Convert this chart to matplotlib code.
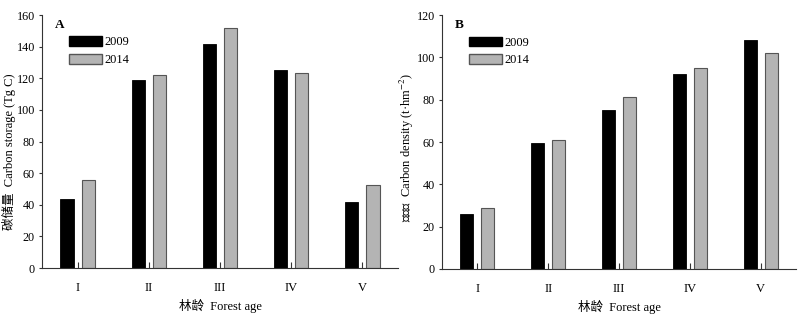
import numpy as np
import matplotlib
matplotlib.use("Agg")
import matplotlib.pyplot as plt
from matplotlib.patches import Patch

plt.rcParams['font.family'] = ['Liberation Serif', 'Noto Sans CJK SC']
plt.rcParams['font.size'] = 8.7
plt.rcParams['mathtext.fontset'] = 'stix'

categories = ["I", "II", "III", "IV", "V"]
years = ["2009", "2014"]
storage_2009 = [43.5, 119, 142, 125, 42]
storage_2014 = [55.5, 122, 152, 123.5, 52.5]
density_2009 = [26, 59.5, 75, 92, 108]
density_2014 = [29, 61, 81.5, 95, 102]


def draw_panel(ax, v1, v2, ymax, ylabel, tag, ylab_y):
    x = np.arange(len(categories))
    w = 0.185
    off = 0.148
    ax.bar(x - off, v1, w, color="black", edgecolor="black", linewidth=0.6)
    ax.bar(x + off, v2, w, color="#b4b4b4", edgecolor="#555555", linewidth=0.8)
    ax.set_xlim(-0.5, len(categories) - 0.5)
    ax.set_ylim(0, ymax)
    ax.set_yticks(np.arange(0, ymax + 1, 20))
    ax.set_xticks(x)
    ax.set_xticklabels(categories)
    ax.spines["top"].set_visible(False)
    ax.spines["right"].set_visible(False)
    for s in ("left", "bottom"):
        ax.spines[s].set_color("#333333")
        ax.spines[s].set_linewidth(0.8)
    ax.tick_params(axis="x", direction="in", length=4, pad=10, color="#333333",
                   labelsize=9)
    ax.tick_params(axis="y", direction="out", length=2.5, pad=2.5, color="#333333",
                   labelsize=8.7)
    ax.set_xlabel("林龄  Forest age", labelpad=4, fontsize=9)
    ax.set_ylabel(ylabel, fontsize=9)
    ax.yaxis.set_label_coords(-0.073, ylab_y)
    ax.text(0.035, 0.985, tag, transform=ax.transAxes, fontweight="bold",
            ha="left", va="top", fontsize=9.5)
    handles = [Patch(facecolor="black", edgecolor="black"),
               Patch(facecolor="#b4b4b4", edgecolor="#555555")]
    ax.legend(handles, years, loc="upper left", bbox_to_anchor=(0.062, 0.935),
              frameon=False, handlelength=2.7, handleheight=0.8,
              handletextpad=0.2, labelspacing=0.45, borderaxespad=0,
              fontsize=8.9)


fig = plt.figure(figsize=(8, 3.21), dpi=100)
ax1 = fig.add_axes([0.0525, 0.165, 0.445, 0.788])
ax2 = fig.add_axes([0.5525, 0.162, 0.4425, 0.791])

draw_panel(ax1, storage_2009, storage_2014, 160, "碳储量  Carbon storage (Tg C)", "A", 0.46)
draw_panel(ax2, density_2009, density_2014, 120,
           "碳密度  Carbon density (t·hm$^{-2}$)", "B", 0.478)

fig.savefig("out.png", dpi=100)
